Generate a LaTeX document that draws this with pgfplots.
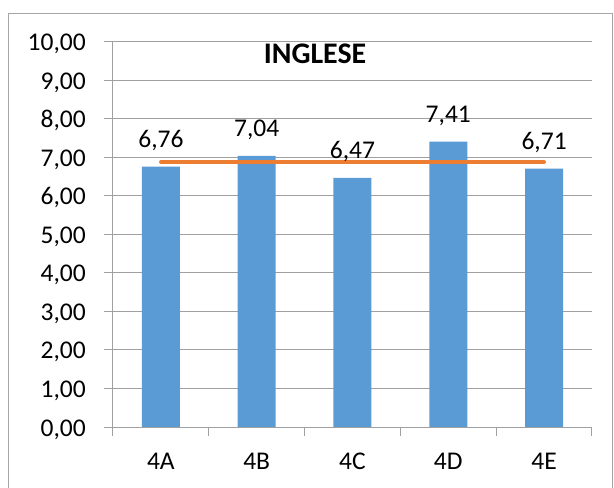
\documentclass[border=0pt]{standalone}
\usepackage{pgfplots}
\pgfplotsset{compat=1.18}
\usepackage{fontspec}
\setmainfont{Carlito}
\definecolor{barblue}{HTML}{5B9BD5}
\definecolor{lineorange}{HTML}{ED7D31}
\definecolor{gridgray}{HTML}{A0A0A0}
\definecolor{framegray}{HTML}{A6A6A6}
\begin{document}
\begin{tikzpicture}
\path[use as bounding box] (-113bp,-61bp) rectangle (501bp,427bp);
\draw[framegray, line width=1bp] (-104bp,-70bp) -- (-104bp,413bp) -- (499bp,413bp) -- (499bp,-70bp);
\begin{axis}[
  at={(0,0)}, anchor=south west, scale only axis,
  width=479bp, height=385bp,
  xmin=-0.5, xmax=4.5, ymin=0, ymax=10,
  axis x line*=bottom, axis y line*=left,
  axis line style={gridgray, line width=1bp},
  xtick={-0.5,0.5,1.5,2.5,3.5,4.5},
  xticklabels={4A,4B,4C,4D,4E,},
  ytick={0,1,...,10},
  ymajorgrids, grid style={gridgray, line width=1bp},
  tick align=outside, major tick length=9bp,
  tick style={gridgray, line width=1bp},
  tick label style={font=\fontsize{25.6}{31}\selectfont, /pgf/number format/assume math mode=true},
  xticklabel style={anchor=base, inner sep=0pt, xshift=47.9bp, yshift=-33bp},
  yticklabel style={anchor=base east, inner sep=0pt, xshift=-18bp, yshift=-9bp,
    /pgf/number format/.cd, fixed, fixed zerofill, precision=2, use comma},
  every node near coord/.append style={anchor=base, inner sep=0pt, yshift=19bp,
    font=\fontsize{25.6}{31}\selectfont, text=black},
]
\addplot[ybar, bar width=38bp, fill=barblue, draw=none,
  nodes near coords={\pgfmathprintnumber[fixed,fixed zerofill,precision=2,use comma,assume math mode=true]{\pgfplotspointmeta}}]
  coordinates {(0,6.76) (1,7.04) (2,6.47) (3,7.41) (4,6.71)};
\addplot[lineorange, line width=3.7bp, line cap=round, mark=none]
  coordinates {(0,6.878) (1,6.878) (2,6.878) (3,6.878) (4,6.878)};
\end{axis}
\node[font=\fontsize{30}{36}\selectfont\bfseries, anchor=base] at (202bp,363bp) {INGLESE};
\end{tikzpicture}
\end{document}
